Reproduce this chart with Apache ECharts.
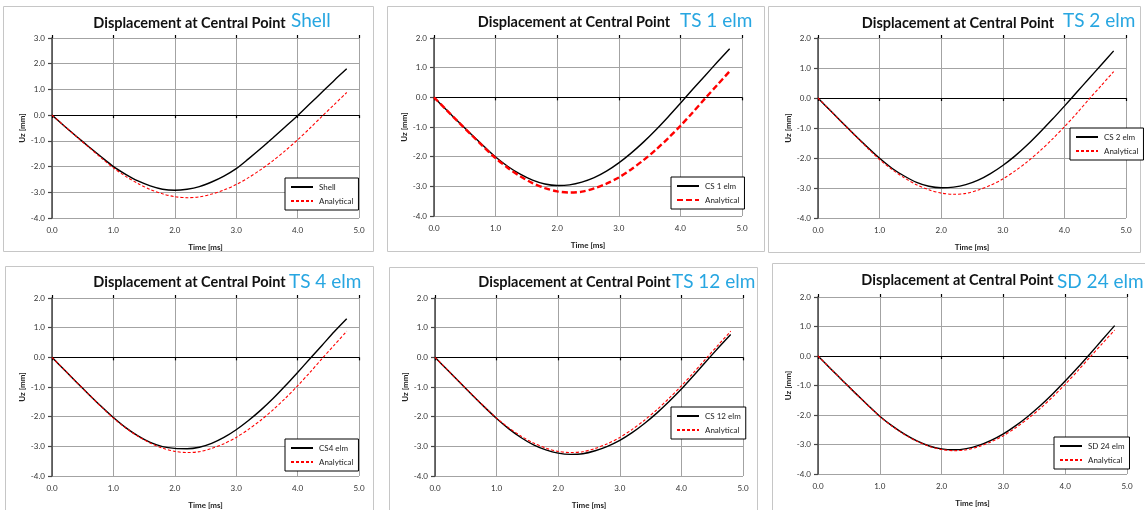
<!DOCTYPE html>
<html>
<head>
<meta charset="utf-8">
<script src="https://cdn.jsdelivr.net/npm/echarts@6/dist/echarts.min.js"></script>
<style>
html,body{margin:0;padding:0;background:#fff;}
#main{width:1145px;height:510px;}
</style>
</head>
<body>
<div id="main"></div>
<script>
// ---- data ----
const times = [0.0,0.2,0.4,0.6,0.8,1.0,1.2,1.4,1.6,1.8,2.0,2.2,2.4,2.6,2.8,3.0,3.2,3.4,3.6,3.8,4.0,4.2,4.4,4.6,4.8];
const analytical = [0,-0.42,-0.84,-1.25,-1.66,-2.05,-2.38,-2.66,-2.89,-3.06,-3.17,-3.21,-3.18,-3.07,-2.91,-2.70,-2.43,-2.12,-1.77,-1.38,-0.96,-0.51,-0.04,0.42,0.88];
const shell = [0,-0.42,-0.83,-1.23,-1.62,-2.00,-2.30,-2.56,-2.75,-2.88,-2.92,-2.88,-2.78,-2.60,-2.37,-2.08,-1.70,-1.30,-0.88,-0.45,-0.02,0.44,0.90,1.36,1.80];
const cs1 = [0,-0.42,-0.83,-1.24,-1.63,-2.01,-2.33,-2.59,-2.79,-2.92,-2.97,-2.95,-2.86,-2.71,-2.49,-2.21,-1.88,-1.51,-1.10,-0.66,-0.20,0.27,0.73,1.19,1.64];
const cs2 = [0,-0.42,-0.83,-1.24,-1.63,-2.01,-2.34,-2.60,-2.81,-2.94,-2.99,-2.97,-2.89,-2.74,-2.52,-2.25,-1.93,-1.56,-1.15,-0.72,-0.27,0.19,0.65,1.11,1.57];
const cs4 = [0,-0.42,-0.84,-1.25,-1.65,-2.03,-2.37,-2.65,-2.87,-3.01,-3.07,-3.08,-3.03,-2.90,-2.70,-2.44,-2.13,-1.78,-1.39,-0.96,-0.51,-0.05,0.41,0.87,1.30];
const cs12 = [0,-0.42,-0.84,-1.26,-1.67,-2.06,-2.41,-2.71,-2.95,-3.12,-3.23,-3.27,-3.25,-3.15,-3.00,-2.80,-2.54,-2.23,-1.88,-1.49,-1.07,-0.61,-0.14,0.32,0.77];
const sd24 = [0,-0.42,-0.84,-1.25,-1.65,-2.04,-2.37,-2.65,-2.88,-3.05,-3.15,-3.18,-3.14,-3.03,-2.86,-2.64,-2.36,-2.04,-1.68,-1.28,-0.85,-0.40,0.07,0.55,1.03];
const panelSeries = [shell, cs1, cs2, cs4, cs12, sd24];
const seriesNames = ['Shell', 'CS 1 elm', 'CS 2 elm', 'CS4 elm', 'CS 12 elm', 'SD 24 elm'];
const panelTags = ['Shell', 'TS 1 elm', 'TS 2 elm', 'TS 4 elm', 'TS 12 elm', 'SD 24 elm'];
const titleText = 'Displacement at Central Point';
const yMins = [-4, -4, -4, -4, -4, -4];
const yMaxs = [3, 2, 2, 2, 2, 2];
const xMin = 0, xMax = 5;
const xName = 'Time [ms]';
const yName = 'Uz [mm]';
const analyticalName = 'Analytical';

// ---- layout ----
const FONT = 'Lato, "Open Sans", sans-serif';
const grids = [
  {left: 52, top: 38, width: 307, height: 180},
  {left: 434, top: 38, width: 308, height: 178},
  {left: 818, top: 38, width: 308, height: 180},
  {left: 52, top: 298, width: 307, height: 181},
  {left: 435, top: 298, width: 308, height: 178},
  {left: 818, top: 297, width: 309, height: 177}
];
const frames = [
  [3, 6, 370, 245], [387, 6, 377, 245], [768, 6, 372, 246],
  [5, 266, 368, 260], [389, 267, 368, 260], [772, 263, 380, 260]
];
const titlePos = [[189.5, 23], [574, 22.5], [958, 23.5], [189.5, 282.5], [574.5, 282.5], [957.5, 280.5]];
const tagPos = [[291, 21], [680, 21], [1063, 21], [289, 281.5], [672, 282], [1057, 281.5]];
const legendPos = [[285, 178], [671, 177], [1070, 128], [285, 439], [671, 407], [1054, 437]];

const fmt = v => v.toFixed(1);
const option = {
  animation: false,
  backgroundColor: '#fff',
  textStyle: {fontFamily: FONT},
  grid: [], xAxis: [], yAxis: [], series: [], legend: [], graphic: []
};

grids.forEach((g, i) => {
  option.grid.push(Object.assign({containLabel: false, show: false}, g));
  // labelled bottom x axis with vertical gridlines
  option.xAxis.push({
    type: 'value', gridIndex: i, min: xMin, max: xMax, interval: 1,
    position: 'bottom',
    axisLine: {show: false, onZero: false},
    axisTick: {show: false},
    axisLabel: {formatter: fmt, fontSize: 8, color: '#333', margin: 8, fontFamily: FONT},
    splitLine: {show: true, lineStyle: {color: '#a3a3a3', width: 1}},
    name: xName, nameLocation: 'middle', nameGap: 25,
    nameTextStyle: {fontSize: 8, fontWeight: 'bold', color: '#222', fontFamily: FONT}
  });
  // zero line with cross ticks (down)
  option.xAxis.push({
    type: 'value', gridIndex: i, min: xMin, max: xMax, interval: 1,
    position: 'bottom',
    axisLine: {show: true, onZero: true, lineStyle: {color: '#000', width: 1.2}},
    axisTick: {show: true, length: 3, lineStyle: {color: '#000', width: 1.2}},
    axisLabel: {show: false}, splitLine: {show: false}
  });
  // zero line ticks (up)
  option.xAxis.push({
    type: 'value', gridIndex: i, min: xMin, max: xMax, interval: 1,
    position: 'top',
    axisLine: {show: false, onZero: true},
    axisTick: {show: true, length: 3, lineStyle: {color: '#000', width: 1.2}},
    axisLabel: {show: false}, splitLine: {show: false}
  });
  option.yAxis.push({
    type: 'value', gridIndex: i, min: yMins[i], max: yMaxs[i], interval: 1,
    axisLine: {show: true, onZero: false, lineStyle: {color: '#444', width: 1.5}},
    axisTick: {show: true, length: 4, lineStyle: {color: '#444', width: 1.2}},
    axisLabel: {formatter: fmt, fontSize: 8, color: '#333', margin: 7, fontFamily: FONT},
    splitLine: {show: true, lineStyle: {color: '#a3a3a3', width: 1}},
    name: yName, nameLocation: 'middle', nameGap: 26, nameRotate: 90,
    nameTextStyle: {fontSize: 8, fontWeight: 'bold', color: '#222', fontFamily: FONT}
  });
  const xi = i * 3;
  const aName = analyticalName + '#' + i;
  option.series.push({
    name: seriesNames[i], type: 'line', xAxisIndex: xi, yAxisIndex: i,
    data: times.map((t, k) => [t, panelSeries[i][k]]),
    showSymbol: false, symbol: 'none', smooth: 0.3, z: 3,
    lineStyle: {color: '#000', width: 1.4, type: 'solid'},
    itemStyle: {color: '#000'}
  });
  const thick = (i === 1);
  option.series.push({
    name: aName, type: 'line', xAxisIndex: xi, yAxisIndex: i,
    data: times.map((t, k) => [t, analytical[k]]),
    showSymbol: false, symbol: 'none', smooth: 0.3, z: 4,
    lineStyle: {color: '#ff0000', width: thick ? 2.4 : 1.1, type: thick ? [6, 3] : [3, 2]},
    itemStyle: {color: '#ff0000'}
  });
  option.legend.push({
    data: [seriesNames[i], aName],
    orient: 'vertical', left: legendPos[i][0], top: legendPos[i][1],
    backgroundColor: '#fff', borderColor: '#000', borderWidth: 1, borderRadius: 0,
    padding: [5, 5, 5, 5], itemGap: 6, itemWidth: 22, itemHeight: 8,
    selectedMode: false,
    itemStyle: {opacity: 0},
    formatter: n => n.split('#')[0],
    textStyle: {fontSize: 8, color: '#222', fontFamily: FONT, padding: [0, 0, 0, 1]}
  });
  option.graphic.push({
    type: 'rect', silent: true, z: -1,
    shape: {x: frames[i][0] + 0.5, y: frames[i][1] + 0.5, width: frames[i][2], height: frames[i][3]},
    style: {fill: 'none', stroke: '#c6c6c6', lineWidth: 1}
  });
  option.graphic.push({
    type: 'text', silent: true, x: titlePos[i][0], y: titlePos[i][1],
    style: {text: titleText, font: 'bold 14.5px ' + FONT, fill: '#111', align: 'center', verticalAlign: 'middle'}
  });
  option.graphic.push({
    type: 'text', silent: true, x: tagPos[i][0], y: tagPos[i][1],
    style: {text: panelTags[i], font: '19px ' + FONT, fill: '#27a6e1', align: 'left', verticalAlign: 'middle'}
  });
});

const chart = echarts.init(document.getElementById('main'), null, {renderer: 'canvas'});
chart.setOption(option);
</script>
</body>
</html>
